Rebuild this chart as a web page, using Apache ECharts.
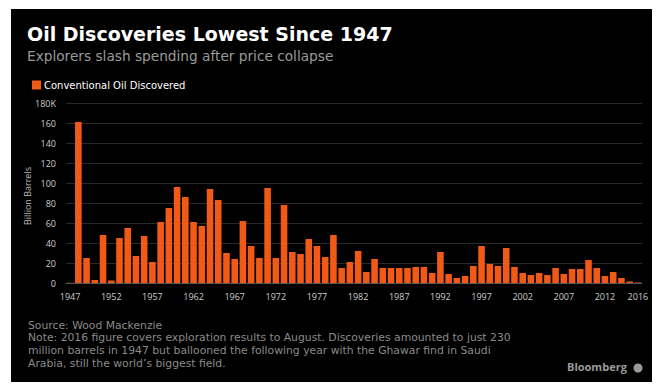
<!DOCTYPE html>
<html>
<head>
<meta charset="utf-8">
<style>
html,body{margin:0;padding:0;background:#fff;}
#chart{width:658px;height:385px;}
</style>
<script src="https://cdn.jsdelivr.net/npm/echarts@6/dist/echarts.min.js"></script>
</head>
<body>
<div id="chart"></div>
<script>
var years = ['1947','1948','1949','1950','1951','1952','1953','1954','1955','1956',
'1957','1958','1959','1960','1961','1962','1963','1964','1965','1966',
'1967','1968','1969','1970','1971','1972','1973','1974','1975','1976',
'1977','1978','1979','1980','1981','1982','1983','1984','1985','1986',
'1987','1988','1989','1990','1991','1992','1993','1994','1995','1996',
'1997','1998','1999','2000','2001','2002','2003','2004','2005','2006',
'2007','2008','2009','2010','2011','2012','2013','2014','2015','2016'];
var discovered = [0.2,161,25,3,48,2.5,45,55,27,47,
21,61,75,96,86,61,57,94,83,30,
24,62,37,25,95,25,78,31,29,44,
37,26,48,15,21,32,11,24,15,15,
15,15,16,16,10,31,9,5,7,17,
37,19,17,35,16,10,8,10,8,15,
9,14,14,23,15,7,11,5,1.5,0.5];
var shownYears = ['1947','1952','1957','1962','1967','1972','1977','1982','1987','1992','1997','2002','2007','2012','2016'];
var footLines = [
  'Source: Wood Mackenzie',
  'Note: 2016 figure covers exploration results to August. Discoveries amounted to just 230',
  'million barrels in 1947 but ballooned the following year with the Ghawar find in Saudi',
  'Arabia, still the world\u2019s biggest field.'
];

var FONT = '"Open Sans", "DejaVu Sans", sans-serif';
var WIDE = '"DejaVu Sans", sans-serif';
var chart = echarts.init(document.getElementById('chart'), null, {renderer:'svg'});
chart.setOption({
  backgroundColor: '#ffffff',
  animation: false,
  graphic: [
    {type:'rect', left:11, top:9, shape:{width:641, height:373}, style:{fill:'#000'}, z:-10},
    {type:'text', left:27, top:24, style:{text:'Oil Discoveries Lowest Since 1947', fill:'#fff', font:'bold 19px ' + WIDE}},
    {type:'text', left:27, top:49, style:{text:'Explorers slash spending after price collapse', fill:'#9a9a9a', font:'13.7px ' + WIDE}},
    {type:'text', x:27, y:196, rotation:Math.PI/2, style:{text:'Billion Barrels', fill:'#bbb', font:'9px ' + FONT, align:'center', verticalAlign:'middle'}},
    {type:'text', left:28, top:319, style:{text:footLines.join('\n'), fill:'#8a8a8a', font:'10.8px ' + WIDE, lineHeight:12.6}},
    {type:'text', left:567, top:361, style:{text:'Bloomberg', fill:'#9a9a9a', font:'bold 11px ' + FONT}},
    {type:'circle', shape:{cx:638, cy:368, r:4.5}, style:{fill:'#9a9a9a'}}
  ],
  legend: {
    left: 27, top: 75,
    itemWidth: 9, itemHeight: 9, icon: 'rect',
    textStyle: {color:'#fff', fontSize:10, fontFamily: WIDE, padding:[0,0,0,-2]},
    data: ['Conventional Oil Discovered']
  },
  grid: {left:66, right:16, top:103, bottom:102, containLabel:false},
  xAxis: {
    type: 'category',
    data: years,
    axisTick: {show:false},
    axisLine: {show:true, lineStyle:{color:'#555', width:1}},
    axisLabel: {
      color:'#ccc', fontSize:9, fontFamily: FONT, margin:9,
      interval: function(i, v){ return shownYears.indexOf(v) >= 0; }
    }
  },
  yAxis: {
    type: 'value',
    min: 0, max: 180, interval: 20,
    axisLine: {show:false},
    axisTick: {show:false},
    splitLine: {show:true, lineStyle:{color:'#2a2a2a', width:1}},
    axisLabel: {
      color:'#ccc', fontSize:9, fontFamily: FONT, margin:10,
      formatter: function(v){ return v === 180 ? '180K' : String(v); }
    }
  },
  series: [{
    name: 'Conventional Oil Discovered',
    type: 'bar',
    data: discovered,
    barCategoryGap: '20%',
    itemStyle: {color:'#f05a16'}
  }]
});
</script>
</body>
</html>
